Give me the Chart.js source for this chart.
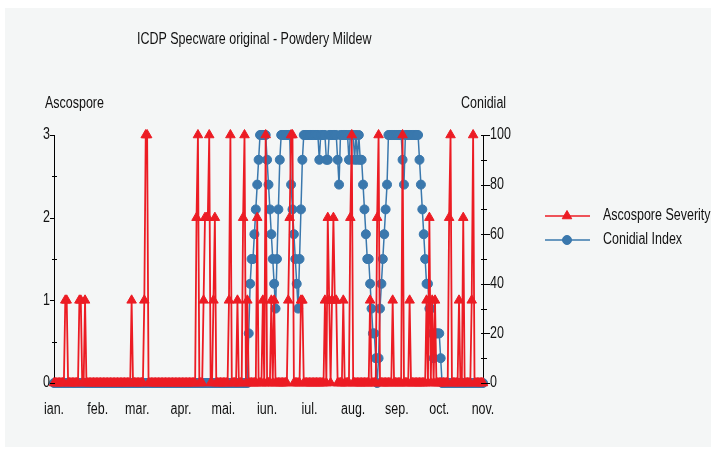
<!DOCTYPE html>
<html>
<head>
<meta charset="utf-8">
<script src="https://cdn.jsdelivr.net/npm/chart.js@4.4.1/dist/chart.umd.min.js"></script>
<style>
  html, body { margin: 0; padding: 0; background: #ffffff; }
  #wrap { position: absolute; left: 0; top: 0; width: 711px; height: 449px; }
</style>
</head>
<body>
<div id="wrap"><canvas id="c" width="711" height="449"></canvas></div>
<script>
// ---- Data (daily values, 1 Jan .. 1 Nov) ----
const monthLabels = ['ian.','feb.','mar.','apr.','mai.','iun.','iul.','aug.','sep.','oct.','nov.'];
const monthStartDays = [0,31,59,90,120,151,181,212,243,273,304];
const leftTicks = [0,1,2,3];
const rightTicks = [0,20,40,60,80,100];

// Ascospore Severity (left axis, 0-3)
const ascJan = [0,0,0,0,0,0,0,0,1,1,0,0,0,0,0,0,0,0,1,1,0,0,1,0,0,0,0,0,0,0,0];
const ascFeb = [0,0,0,0,0,0,0,0,0,0,0,0,0,0,0,0,0,0,0,0,0,0,0,0,1,0,0,0];
const ascMar = [0,0,0,0,0,1,3,3,0,0,0,0,0,0,0,0,0,0,0,0,0,0,0,0,0,0,0,0,0,0,0];
const ascApr = [0,0,0,0,0,0,0,0,0,0,0,2,3,0,0,0,1,2,2,2,3,0,0,1,2,0,0,0,0,0];
const ascMay = [0,0,0,0,1,3,0,0,0,0,1,0,0,0,2,3,0,1,0,0,0,0,0,0,2,0,0,0,1,0,3];
const ascJun = [0,0,0,1,0,1,0,0,0,0,0,0,0,0,0,1,2,3,3,0,0,0,0,0,1,1,0,0,0,0];
const ascJul = [0,0,0,0,0,0,0,0,0,0,0,1,0,2,1,0,1,2,1,1,0,0,0,0,1,0,0,0,0,2,3];
const ascAug = [0,0,0,0,0,0,0,0,0,0,0,0,1,0,0,0,0,2,3,0,0,0,0,0,0,0,0,0,1,0,0];
const ascSep = [0,0,0,0,3,0,0,0,0,1,0,0,0,0,0,0,0,0,0,0,0,1,0,2,0,1,0,1,0,0];
const ascOct = [0,0,0,0,0,0,0,2,3,0,0,0,0,0,1,0,0,2,0,0,0,0,0,1,3,0,0,0,0,0,0];
const ascNov = [0];

// Conidial Index (right axis, 0-100)
const conJan = [0,0,0,0,0,0,0,0,0,0,0,0,0,0,0,0,0,0,0,0,0,0,0,0,0,0,0,0,0,0,0];
const conFeb = [0,0,0,0,0,0,0,0,0,0,0,0,0,0,0,0,0,0,0,0,0,0,0,0,0,0,0,0];
const conMar = [0,0,0,0,0,0,0,0,0,0,0,0,0,0,0,0,0,0,0,0,0,0,0,0,0,0,0,0,0,0,0];
const conApr = [0,0,0,0,0,0,0,0,0,0,0,0,0,0,0,0,0,0,0,0,0,0,0,0,0,0,0,0,0,0];
const conMay = [0,0,0,0,0,0,0,0,0,0,0,0,0,0,0,0,0,0,20,40,50,50,60,70,80,90,100,100,100,100,100];
const conJun = [90,80,70,60,50,40,30,50,70,90,100,100,100,100,100,100,100,80,70,60,50,40,30,50,70,90,100,100,100,100];
const conJul = [100,100,100,100,100,100,100,90,100,100,100,100,90,90,100,100,100,100,100,100,90,80,100,100,100,100,100,100,90,100,100];
const conAug = [100,90,100,90,100,90,90,80,70,60,50,50,40,30,20,20,10,0,10,30,40,50,60,70,80,100,100,100,100,100,100];
const conSep = [100,100,100,100,90,80,100,100,100,100,100,100,100,100,100,100,90,80,70,60,50,40,40,30,30,20,10,20,20,20];
const conOct = [20,10,0,0,0,0,0,0,0,0,0,0,0,0,0,0,0,0,0,0,0,0,0,0,0,0,0,0,0,0,0];
const conNov = [0];

const ascospore = [].concat(ascJan, ascFeb, ascMar, ascApr, ascMay, ascJun, ascJul, ascAug, ascSep, ascOct, ascNov);
const conidial  = [].concat(conJan, conFeb, conMar, conApr, conMay, conJun, conJul, conAug, conSep, conOct, conNov);

// ---- Styling ----
const RED = '#ec1c24';
const BLUE = '#3a78ad';
const PANEL = '#f4f6f6';
const TXT = '#111111';
const FAMILY = '"Liberation Sans", Arial, sans-serif';
const FSIZE = 16;
const SX = 0.78; // horizontal condensing of the text

function txt(c, s, x, y, align) {
  c.save();
  c.font = FSIZE + 'px ' + FAMILY;
  c.textBaseline = 'middle';
  c.textAlign = align || 'left';
  c.translate(x, y);
  c.scale(SX, 1);
  c.fillText(s, 0, 0);
  c.restore();
}

const decor = {
  id: 'decor',
  beforeDraw(chart) {
    const c = chart.ctx;
    c.save();
    c.fillStyle = '#ffffff';
    c.fillRect(0, 0, chart.width, chart.height);
    c.fillStyle = PANEL;
    c.fillRect(5, 8, chart.width - 5, chart.height - 10);
    c.restore();
  },
  afterDraw(chart) {
    const c = chart.ctx;
    const a = chart.chartArea;
    const yL = chart.scales.yL, yR = chart.scales.yR, x = chart.scales.x;
    c.save();
    c.strokeStyle = '#000';
    c.lineWidth = 1;
    // left ticks
    for (let v = 0; v <= 3.0001; v += 0.5) {
      const y = Math.round(yL.getPixelForValue(v)) + 0.5;
      const major = Math.abs(v - Math.round(v)) < 1e-6;
      c.beginPath();
      c.moveTo(a.left - (major ? 4 : 2), y);
      c.lineTo(a.left + (major ? 1 : 3), y);
      c.stroke();
    }
    // right ticks
    for (let v = 0; v <= 100; v += 10) {
      const y = Math.round(yR.getPixelForValue(v)) + 0.5;
      const major = v % 20 === 0;
      c.beginPath();
      c.moveTo(a.right - 2, y);
      c.lineTo(a.right + (major ? 7 : 4), y);
      c.stroke();
    }
    c.fillStyle = TXT;
    // tick labels
    leftTicks.forEach(v => txt(c, String(v), a.left - 4, yL.getPixelForValue(v), 'right'));
    rightTicks.forEach(v => txt(c, String(v), a.right + 7, yR.getPixelForValue(v), 'left'));
    monthStartDays.forEach((d, i) => txt(c, monthLabels[i], x.getPixelForValue(d), a.bottom + 27, 'center'));
    // titles
    txt(c, 'ICDP Specware original - Powdery Mildew', 137, 40, 'left');
    txt(c, 'Ascospore', 45, 104, 'left');
    txt(c, 'Conidial', 461, 104, 'left');
    // legend
    const items = [
      { label: chart.data.datasets[0].label, color: RED, style: 'triangle', r: 5.5, y: 216 },
      { label: chart.data.datasets[1].label, color: BLUE, style: 'circle', r: 4.5, y: 240 }
    ];
    items.forEach(it => {
      c.strokeStyle = it.color;
      c.lineWidth = 1.5;
      c.beginPath();
      c.moveTo(545, it.y);
      c.lineTo(590, it.y);
      c.stroke();
      c.fillStyle = it.color;
      c.lineWidth = 1;
      Chart.helpers.drawPoint(c, { pointStyle: it.style, radius: it.r, borderWidth: 1 }, 567, it.y);
      c.fillStyle = TXT;
      txt(c, it.label, 603, it.y, 'left');
    });
    c.restore();
  }
};

new Chart(document.getElementById('c'), {
  type: 'line',
  data: {
    datasets: [
      {
        label: 'Ascospore Severity',
        data: ascospore.map((v, i) => ({ x: i, y: v })),
        yAxisID: 'yL',
        borderColor: RED,
        backgroundColor: RED,
        pointBackgroundColor: RED,
        pointBorderColor: RED,
        pointStyle: 'triangle',
        pointRadius: 5.5,
        pointBorderWidth: 1,
        borderWidth: 1.8,
        tension: 0,
        clip: false
      },
      {
        label: 'Conidial Index',
        data: conidial.map((v, i) => ({ x: i, y: v })),
        yAxisID: 'yR',
        borderColor: BLUE,
        backgroundColor: BLUE,
        pointBackgroundColor: BLUE,
        pointBorderColor: BLUE,
        pointStyle: 'circle',
        pointRadius: 4.5,
        pointBorderWidth: 1,
        borderWidth: 1.5,
        tension: 0,
        clip: false
      }
    ]
  },
  options: {
    responsive: false,
    animation: false,
    devicePixelRatio: 1,
    events: [],
    layout: { padding: { left: 0, right: 188, top: 135, bottom: 26 } },
    plugins: { legend: { display: false }, title: { display: false }, tooltip: { enabled: false } },
    scales: {
      x: {
        type: 'linear',
        min: 0, max: 304,
        grid: { display: false, drawTicks: false },
        border: { display: false },
        afterBuildTicks(scale) { scale.ticks = monthStartDays.map(v => ({ value: v })); },
        afterFit(scale) { scale.height = 40; },
        ticks: { display: false }
      },
      yL: {
        type: 'linear', position: 'left',
        min: 0, max: 3,
        grid: { display: false, drawTicks: false },
        border: { display: true, color: '#000', width: 1 },
        afterBuildTicks(scale) { scale.ticks = leftTicks.map(v => ({ value: v })); },
        afterFit(scale) { scale.width = 54; },
        ticks: { display: false }
      },
      yR: {
        type: 'linear', position: 'right',
        min: 0, max: 100,
        grid: { display: false, drawTicks: false },
        border: { display: true, color: '#000', width: 1 },
        afterBuildTicks(scale) { scale.ticks = rightTicks.map(v => ({ value: v })); },
        afterFit(scale) { scale.width = 40; },
        ticks: { display: false }
      }
    }
  },
  plugins: [decor]
});
</script>
</body>
</html>
